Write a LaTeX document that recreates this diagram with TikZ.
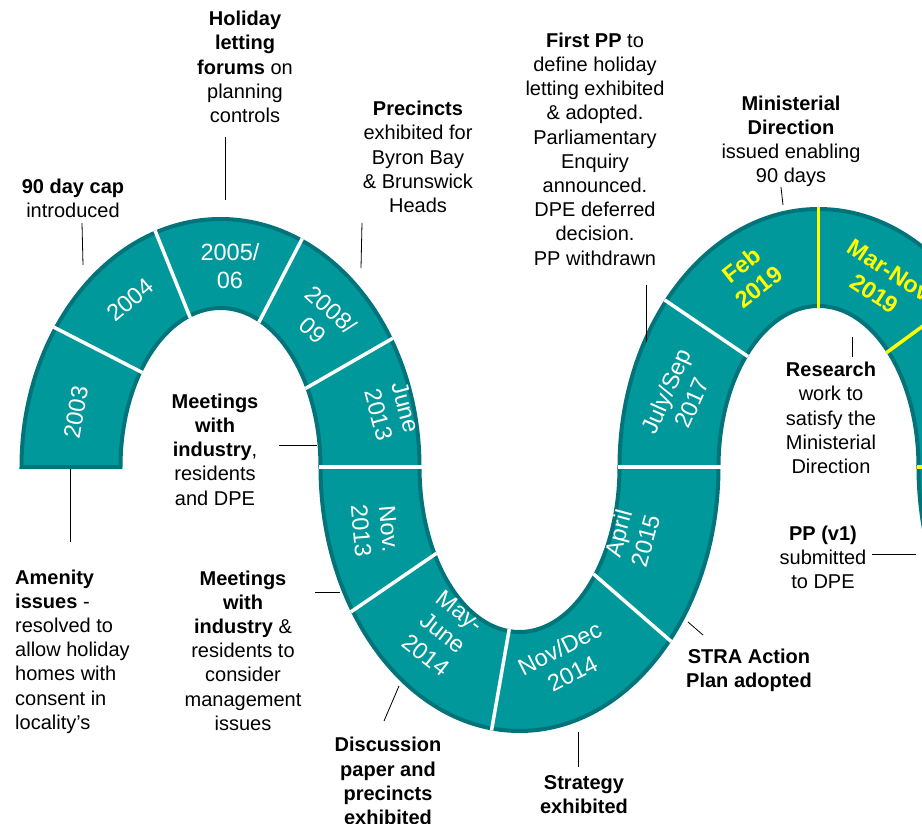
\documentclass[tikz,border=0pt]{standalone}
\usepackage{fontspec}
\setmainfont{Liberation Sans}
\usepackage{tikz}

\definecolor{stripfill}{RGB}{0,152,154}
\definecolor{stripedge}{RGB}{0,116,122}
\definecolor{hiyellow}{RGB}{255,255,0}
\newcommand{\segfont}{\fontsize{23.5}{28}\selectfont}
\newcommand{\callfont}{\fontsize{20}{24.2}\selectfont}

\tikzset{
  strip/.style={fill=stripfill, draw=stripedge, line width=4pt},
  divider/.style={white, line width=3.5pt},
  ydivider/.style={hiyellow, line width=3.5pt},
  seglbl/.style={text=white, font=\segfont, align=center, inner sep=0pt},
  yearlbl/.style={text=hiyellow, font=\segfont\bfseries, align=center, inner sep=0pt},
  callout/.style={font=\callfont, align=center, inner sep=0pt},
  leader/.style={draw=black, line width=0.8pt}
}

\begin{document}
\begin{tikzpicture}[x=1pt,y=1pt]
            \useasboundingbox (0,0) rectangle (922,-824);
            % arch centres
            \coordinate (L) at (220.5,-467);
            \coordinate (U) at (519.5,-467);
            \coordinate (R) at (818.5,-467);
            \coordinate (N) at (1117.5,-467);

            \begin{scope}
            \clip (0,0) rectangle (922,-824);
            % the band
            \draw[strip, shift={(L)}] (180:199 and 248) arc[start angle=180, end angle=0, x radius=199, y radius=248]
                -- (0:100 and 159) arc[start angle=0, end angle=180, x radius=100, y radius=159] -- cycle;
            \draw[strip, shift={(U)}] (180:199 and 264) arc[start angle=180, end angle=360, x radius=199, y radius=264]
                -- (0:100 and 165) arc[start angle=360, end angle=180, x radius=100, y radius=165] -- cycle;
            \draw[strip, shift={(R)}] (180:199 and 258) arc[start angle=180, end angle=0, x radius=199, y radius=258]
                -- (0:100 and 161) arc[start angle=0, end angle=180, x radius=100, y radius=161] -- cycle;
            \draw[strip, shift={(N)}] (180:199 and 264) arc[start angle=180, end angle=360, x radius=199, y radius=264]
                -- (0:100 and 165) arc[start angle=360, end angle=180, x radius=100, y radius=165] -- cycle;

            %dividers
            \foreach \i/\o in {143/146, 108/109, 67/66, 30/31}
                \draw[divider, shift={(L)}] (\i:98 and 157) -- (\o:201 and 250);
            \foreach \i/\o in {180/180, -148/-147, -96/-98, -41/-41, 0/0}
                \draw[divider, shift={(U)}] (\i:98 and 163) -- (\o:201 and 266);
            \draw[divider, shift={(R)}] (136:98 and 159) -- (140:201 and 260);
            \foreach \i/\o in {90/90, 46/42, 0/0}
                \draw[ydivider, shift={(R)}] (\i:98 and 159) -- (\o:201 and 260);

            % dates
            \node[seglbl, rotate=80] (y2003) at (76,-412) {2003};
            \node[seglbl, rotate=40] (y2004) at (130,-300) {2004};
            \node[seglbl] (y2005) at (230,-266) {2005/\\06};
            \node[seglbl, rotate=-42] (y2008) at (322,-320) {2008/\\09};
            \node[seglbl, rotate=-75] (y2013a) at (392,-411) {June\\2013};
            \node[seglbl, rotate=-85] (y2013b) at (375,-530) {Nov.\\2013};
            \node[seglbl, rotate=-38] (y2014a) at (443,-633) {May-\\June\\2014};
            \node[seglbl, rotate=27] (y2014b) at (566,-661) {Nov/Dec\\2014};
            \node[seglbl, rotate=75] (y2015) at (632,-537) {April\\2015};
            \node[seglbl, rotate=66] (y2017) at (679,-397) {July/Sep\\2017};
            \node[yearlbl, rotate=38] (y2019a) at (750,-276) {Feb\\2019};
            \node[yearlbl, rotate=-33] (y2019b) at (882,-282) {Mar-Nov\\2019};
            \end{scope}

            % events
            \node[callout] (cap) at (73,-198.5) {\textbf{90 day cap}\\introduced};
            \node[callout] (forums) at (245,-67) {\textbf{Holiday}\\\textbf{letting}\\\textbf{forums} on\\planning\\controls};
            \node[callout] (precincts) at (418,-157) {\textbf{Precincts}\\exhibited for\\Byron Bay\\\& Brunswick\\Heads};
            \node[callout] (firstpp) at (595,-149) {\textbf{First PP} to\\define holiday\\letting exhibited\\\& adopted.\\Parliamentary\\Enquiry\\announced.\\DPE deferred\\decision.\\PP withdrawn};
            \node[callout] (mindir) at (791,-141.5) {\textbf{Ministerial}\\\textbf{Direction}\\issued enabling\\90 days};
            \node[callout] (research) at (831,-418) {\textbf{Research}\\work to\\satisfy the\\Ministerial\\Direction};
            \node[callout] (ppv) at (823,-557.5) {\textbf{PP (v1)}\\submitted\\to DPE};
            \node[callout, font=\callfont\bfseries] (stra) at (749,-670) {STRA Action\\Plan adopted};
            \node[callout, font=\callfont\bfseries] (strategy) at (584,-795) {Strategy\\exhibited};
            \node[callout, font=\callfont\bfseries] (discussion) at (388,-781) {Discussion\\paper and\\precincts\\exhibited};
            \node[callout] (meetb) at (243,-650.5) {\textbf{Meetings}\\\textbf{with}\\\textbf{industry} \&\\residents to\\consider\\management\\issues};
            \node[callout, align=left, anchor=west] (amenity) at (15,-651.5) {\textbf{Amenity}\\\textbf{issues} -\\resolved to\\allow holiday\\homes with\\consent in\\locality’s};
            \node[callout] (meeta) at (215,-449.5) {\textbf{Meetings}\\\textbf{with}\\\textbf{industry},\\residents\\and DPE};

            % leader lines
            \foreach \n/\a/\b in {cap/{82,-223}/{83,-265}, forums/{225,-137}/{225,-200},
                precincts/{362,-223}/{361,-268}, firstpp/{646,-285}/{646,-342},
                mindir/{781,-187}/{783,-205}, research/{852,-337}/{852,-357},
                ppv/{872,-554}/{916,-554}, stra/{688,-622}/{703,-635},
                strategy/{578,-732}/{578,-767}, discussion/{399,-686}/{384,-721},
                meetb/{315,-592}/{340,-592}, amenity/{70,-469}/{70,-542},
                meeta/{279,-445}/{317,-445}}
            {
                \coordinate (\n-a) at (\a);
                \coordinate (\n-b) at (\b);
                \draw[leader] (\n-a) -- (\n-b);
            }
\end{tikzpicture}
\end{document}
